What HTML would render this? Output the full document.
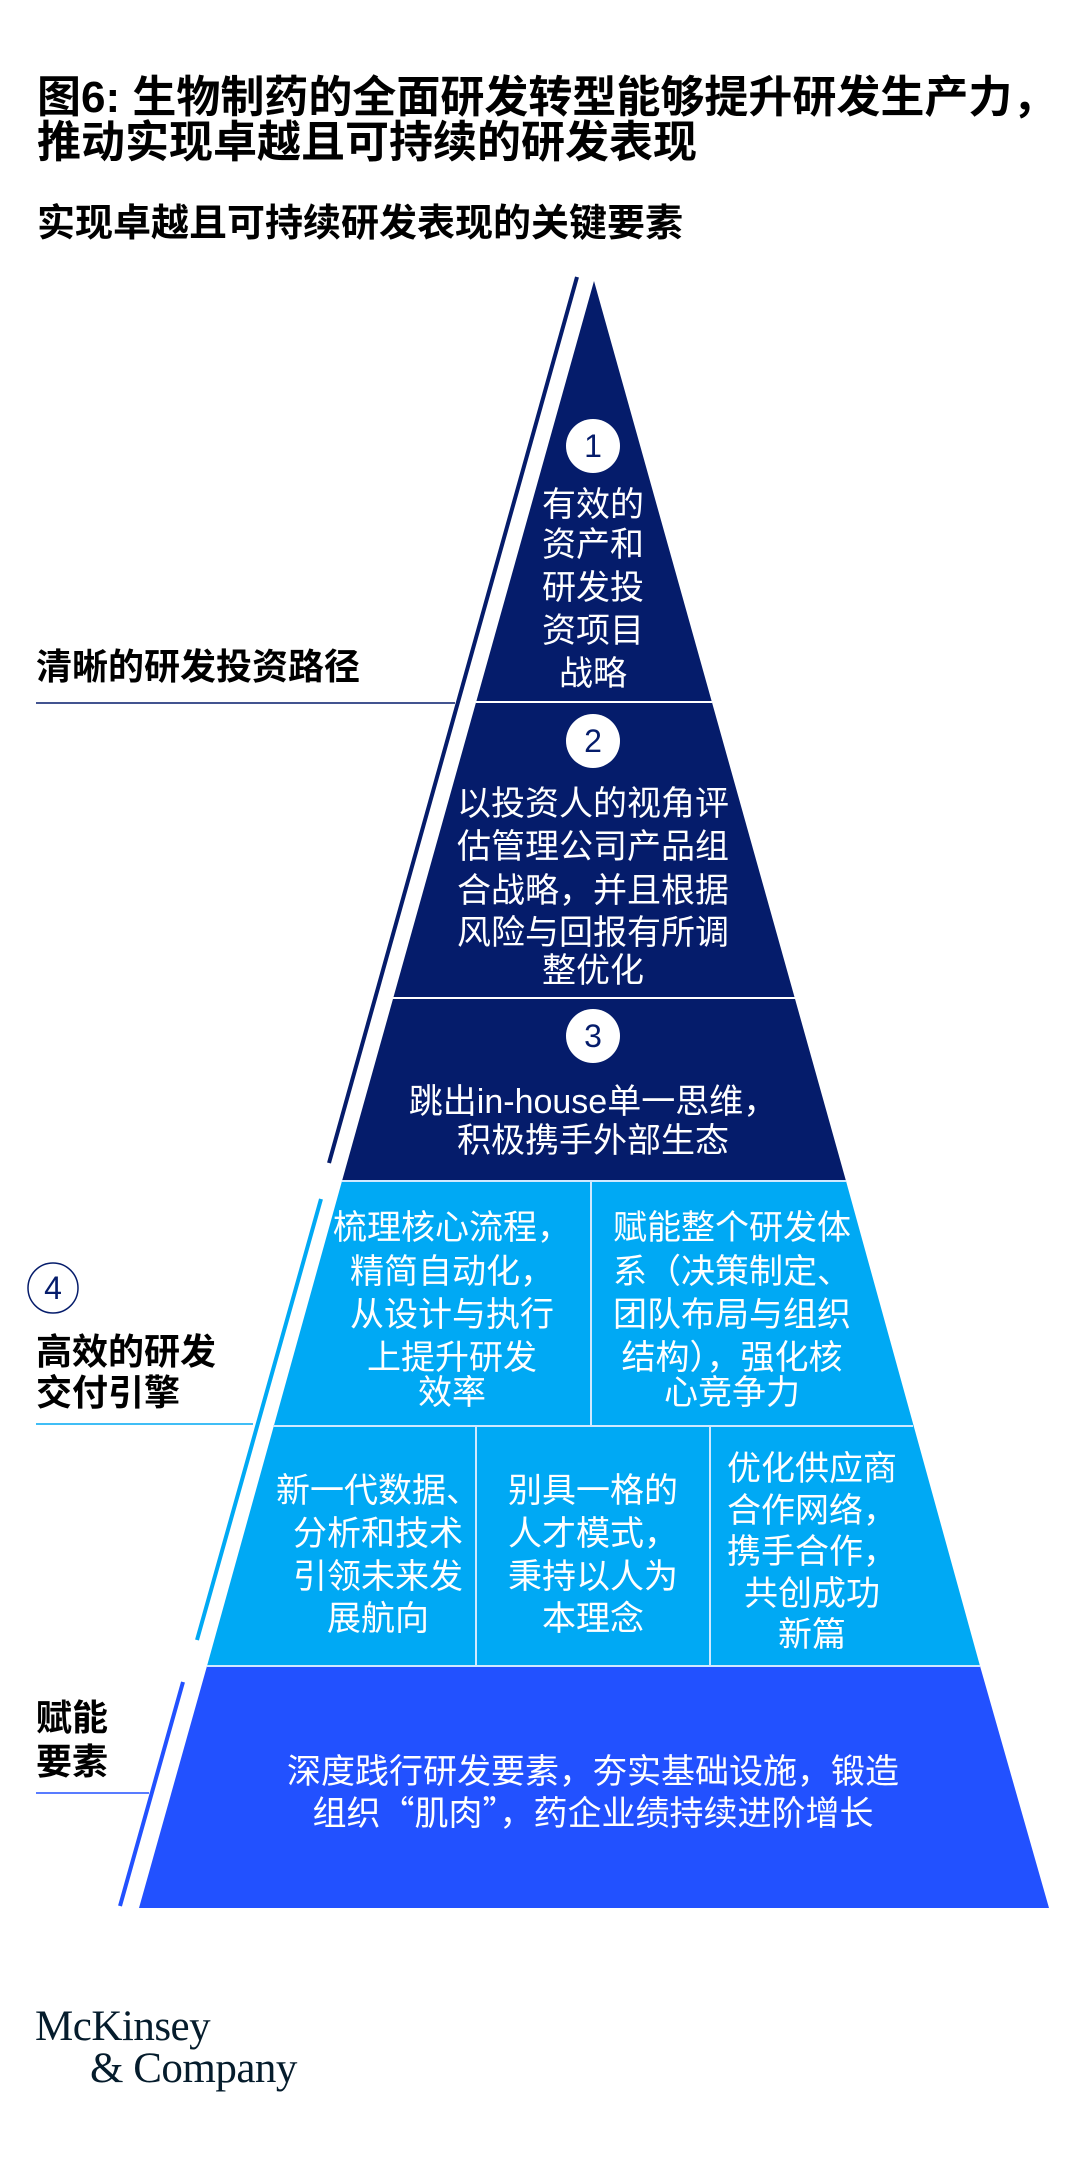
<!DOCTYPE html>
<html><head><meta charset="utf-8"><style>
html,body{margin:0;padding:0;background:#fff;}
svg{display:block;}
text{font-family:"Liberation Sans","Noto Sans CJK SC",sans-serif;}
.t{font-weight:bold;fill:#000;}
.w{fill:#fff;font-size:34px;text-anchor:middle;}
.num{fill:#051c6b;font-size:32px;text-anchor:middle;}
</style></head><body>
<svg width="1080" height="2163" viewBox="0 0 1080 2163" xmlns="http://www.w3.org/2000/svg">
<text class="t" x="37" y="112" font-size="44">图6: 生物制药的全面研发转型能够提升研发生产力，</text>
<text class="t" x="37" y="157" font-size="44">推动实现卓越且可持续的研发表现</text>
<text class="t" x="37" y="236" font-size="38">实现卓越且可持续研发表现的关键要素</text>

<polygon points="594,281 846,1181 342,1181" fill="#051c6b"/>
<polygon points="342,1181 846,1181 980,1666 207,1666" fill="#00a9f4"/>
<polygon points="207,1666 980,1666 1049,1908 139,1908" fill="#2251ff"/>
<line x1="476" y1="702" x2="712" y2="702" stroke="#fff" stroke-width="2"/>
<line x1="393" y1="998" x2="795" y2="998" stroke="#fff" stroke-width="2"/>
<line x1="342" y1="1181" x2="846" y2="1181" stroke="#cfe9ff" stroke-width="2"/>
<line x1="273" y1="1426" x2="913" y2="1426" stroke="#cfe9ff" stroke-width="2"/>
<line x1="207" y1="1666" x2="980" y2="1666" stroke="#cfe9ff" stroke-width="2"/>
<line x1="591" y1="1181" x2="591" y2="1426" stroke="#cfe9ff" stroke-width="2"/>
<line x1="476" y1="1426" x2="476" y2="1666" stroke="#cfe9ff" stroke-width="2"/>
<line x1="710" y1="1426" x2="710" y2="1666" stroke="#cfe9ff" stroke-width="2"/>

<line x1="577" y1="277" x2="329" y2="1163" stroke="#051c6b" stroke-width="4"/>
<line x1="321" y1="1199" x2="197" y2="1640" stroke="#00a9f4" stroke-width="4"/>
<line x1="183" y1="1682" x2="120" y2="1906" stroke="#2251ff" stroke-width="4"/>
<line x1="36" y1="703" x2="455" y2="703" stroke="#051c6b" stroke-width="1.5"/>
<line x1="36" y1="1424" x2="253" y2="1424" stroke="#00a9f4" stroke-width="1.5"/>
<line x1="36" y1="1793" x2="149" y2="1793" stroke="#2251ff" stroke-width="1.5"/>

<text class="t" x="36" y="679" font-size="36">清晰的研发投资路径</text>
<circle cx="53" cy="1288" r="25" fill="#fff" stroke="#051c6b" stroke-width="1.5"/>
<text class="num" x="53" y="1299">4</text>
<text class="t" x="36" y="1364" font-size="36">高效的研发</text>
<text class="t" x="36" y="1405" font-size="36">交付引擎</text>
<text class="t" x="36" y="1730" font-size="36">赋能</text>
<text class="t" x="36" y="1774" font-size="36">要素</text>

<circle cx="593" cy="446" r="27" fill="#fff"/><text class="num" x="593" y="457">1</text>
<circle cx="593" cy="741" r="27" fill="#fff"/><text class="num" x="593" y="752">2</text>
<circle cx="593" cy="1036" r="27" fill="#fff"/><text class="num" x="593" y="1047">3</text>

<g class="w">
<text x="593" y="516">有效的</text>
<text x="593" y="556">资产和</text>
<text x="593" y="599">研发投</text>
<text x="593" y="642">资项目</text>
<text x="593" y="685">战略</text>

<text x="593" y="815">以投资人的视角评</text>
<text x="593" y="858">估管理公司产品组</text>
<text x="593" y="902">合战略，并且根据</text>
<text x="593" y="944">风险与回报有所调</text>
<text x="593" y="982">整优化</text>

<text x="593" y="1113">跳出in-house单一思维，</text>
<text x="593" y="1152">积极携手外部生态</text>

<text x="452" y="1239">梳理核心流程，</text>
<text x="452" y="1283">精简自动化，</text>
<text x="452" y="1326">从设计与执行</text>
<text x="452" y="1369">上提升研发</text>
<text x="452" y="1404">效率</text>

<text x="732" y="1239">赋能整个研发体</text>
<text x="732" y="1283">系（决策制定、</text>
<text x="732" y="1326">团队布局与组织</text>
<text x="732" y="1369">结构），强化核</text>
<text x="732" y="1404">心竞争力</text>

<text x="378" y="1502">新一代数据、</text>
<text x="378" y="1545">分析和技术</text>
<text x="378" y="1588">引领未来发</text>
<text x="378" y="1630">展航向</text>

<text x="593" y="1502">别具一格的</text>
<text x="593" y="1545">人才模式，</text>
<text x="593" y="1588">秉持以人为</text>
<text x="593" y="1630">本理念</text>

<text x="812" y="1480">优化供应商</text>
<text x="812" y="1522">合作网络，</text>
<text x="812" y="1563">携手合作，</text>
<text x="812" y="1605">共创成功</text>
<text x="812" y="1646">新篇</text>

<text x="593" y="1783">深度践行研发要素，夯实基础设施，锻造</text>
<text x="593" y="1825" style='font-family:"Noto Sans CJK SC",sans-serif'>组织“肌肉”，药企业绩持续进阶增长</text>
</g>

<text x="35" y="2040" font-size="43" fill="#051c2c" style="font-family:'Liberation Serif',serif;letter-spacing:-0.5px">McKinsey</text>
<text x="90" y="2082" font-size="43" fill="#051c2c" style="font-family:'Liberation Serif',serif;letter-spacing:-0.5px">&amp; Company</text>
</svg>
</body></html>
